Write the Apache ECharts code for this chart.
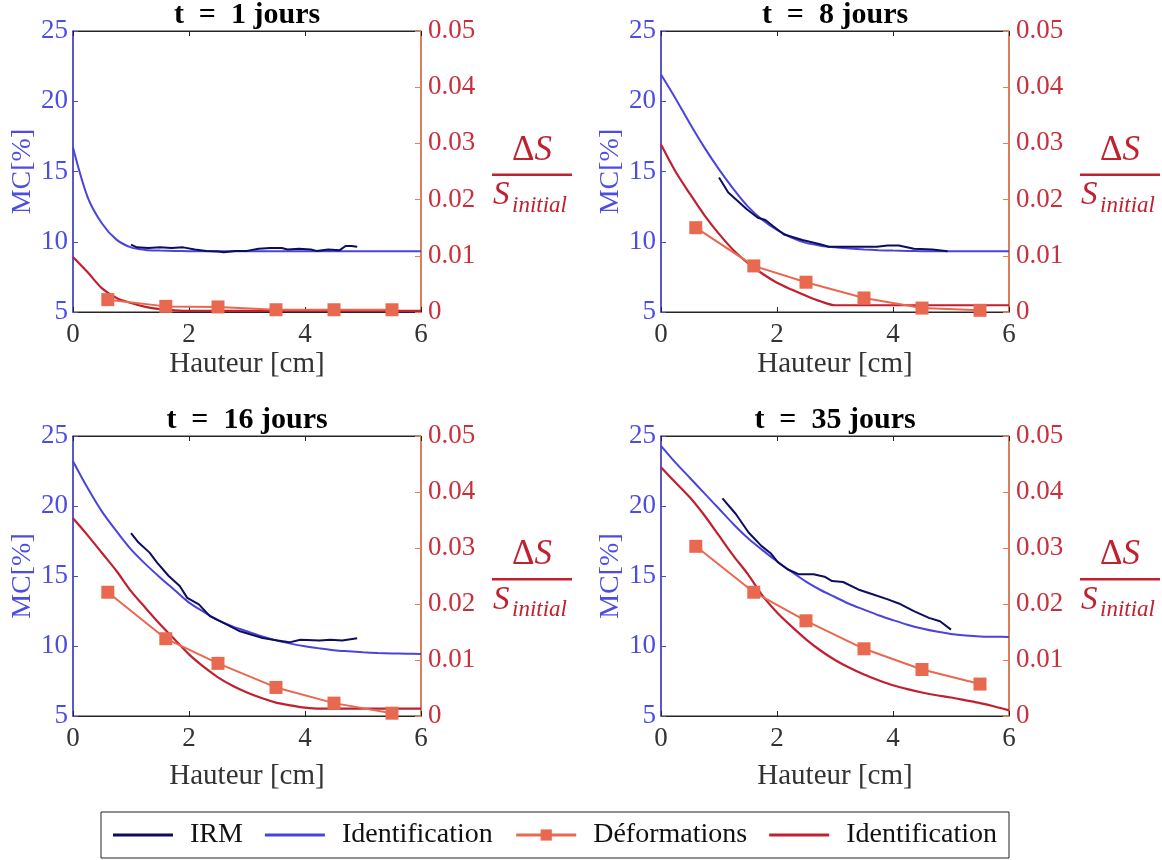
<!DOCTYPE html>
<html><head><meta charset="utf-8">
<script src="https://cdn.jsdelivr.net/npm/echarts@6/dist/echarts.min.js"></script>
<style>html,body{margin:0;padding:0;background:#fff}#c{width:1162px;height:860px}</style>
</head><body><div id="c"></div>
<script>
// ---------- DATA ----------
const panelTitles = ['t\u2002=\u20021 jours', 't\u2002=\u20028 jours', 't\u2002=\u200216 jours', 't\u2002=\u200235 jours'];

// Identification curves sampled on a common height grid [cm]
const identX = [0,0.25,0.5,0.75,1,1.25,1.5,1.75,2,2.25,2.5,2.75,3,3.25,3.5,3.75,4,4.25,4.5,4.75,5,5.25,5.5,5.75,6];
const mcIdent1  = [16.7,13.2,11.3,10.15,9.6,9.42,9.37,9.34,9.33,9.33,9.33,9.33,9.33,9.33,9.33,9.33,9.33,9.33,9.33,9.33,9.33,9.33,9.33,9.33,9.33];
const mcIdent8  = [21.9,20.2,18.4,16.7,15.15,13.75,12.5,11.55,10.84,10.3,9.92,9.72,9.6,9.52,9.45,9.4,9.37,9.35,9.33,9.32,9.32,9.32,9.32,9.32,9.32];
const mcIdent16 = [23.2,21.3,19.6,18.2,16.9,15.85,14.9,14.0,13.1,12.45,11.85,11.4,11.05,10.7,10.4,10.17,9.98,9.83,9.7,9.62,9.55,9.5,9.47,9.45,9.43];
const mcIdent35 = [24.3,23.1,22.0,20.9,19.8,18.7,17.7,16.85,16.05,15.3,14.6,14.0,13.5,13.0,12.6,12.2,11.85,11.52,11.25,11.03,10.86,10.75,10.68,10.66,10.65];

const dsIdent1  = [0.0098,0.0071,0.0042,0.0025,0.0016,0.0009,0.0005,0.0003,0.0002,0.0002,0.0002,0.0002,0.0002,0.0002,0.0002,0.0002,0.0002,0.0002,0.0002,0.0002,0.0002,0.0002,0.0002,0.0002,0.0002];
const dsIdent8  = [0.0298,0.0250,0.0210,0.0172,0.0139,0.0110,0.0087,0.0068,0.0052,0.0040,0.0029,0.0019,0.0012,0.0012,0.0012,0.0012,0.0012,0.0012,0.0012,0.0012,0.0012,0.0012,0.0012,0.0012,0.0012];
const dsIdent16 = [0.0353,0.0323,0.0291,0.0259,0.0223,0.0193,0.0164,0.0137,0.0110,0.0088,0.0069,0.0054,0.0042,0.0032,0.0024,0.0019,0.0015,0.0013,0.0013,0.0013,0.0013,0.0013,0.0013,0.0013,0.0013];
const dsIdent35 = [0.0444,0.0417,0.0390,0.0358,0.0322,0.0286,0.0253,0.0215,0.0185,0.0160,0.0137,0.0117,0.0100,0.0086,0.0074,0.0064,0.0055,0.0048,0.0042,0.0037,0.0033,0.0028,0.0023,0.0017,0.0010];

// IRM measurements
const irmX1  = [1.0,1.1,1.3,1.5,1.7,1.9,2.1,2.3,2.5,2.6,2.8,3.0,3.2,3.4,3.6,3.7,3.9,4.1,4.2,4.4,4.6,4.7,4.8,4.9];
const irm1   = [9.8,9.6,9.55,9.6,9.55,9.6,9.45,9.35,9.3,9.25,9.35,9.35,9.5,9.55,9.55,9.45,9.5,9.45,9.35,9.45,9.4,9.7,9.7,9.65];
const irmX8  = [1.0,1.16,1.48,1.67,1.8,1.93,2.12,2.44,2.76,2.89,3.08,3.4,3.72,3.91,4.1,4.36,4.68,4.94];
const irm8   = [14.57,13.5,12.31,11.71,11.55,11.12,10.52,10.12,9.81,9.64,9.64,9.64,9.64,9.74,9.74,9.5,9.45,9.33];
const irmX16 = [1.0,1.13,1.32,1.45,1.65,1.84,1.97,2.17,2.36,2.62,2.88,3.27,3.53,3.73,3.92,4.25,4.44,4.64,4.9];
const irm16  = [18.06,17.39,16.67,15.96,15.0,14.28,13.44,12.97,12.13,11.6,11.05,10.57,10.4,10.26,10.45,10.4,10.45,10.4,10.55];
const irmX35 = [1.06,1.29,1.51,1.73,1.89,2.02,2.18,2.38,2.63,2.82,2.95,3.14,3.40,3.66,3.91,4.1,4.36,4.62,4.81,5.0];
const irm35  = [20.55,19.43,18.11,17.15,16.63,15.96,15.48,15.12,15.12,14.95,14.64,14.57,14.04,13.68,13.33,13.04,12.49,12.01,11.77,11.17];

// Déformations (measured ΔS/S_initial)
const defX  = [0.6,1.6,2.5,3.5,4.5,5.5];
const def1  = [0.0022,0.0010,0.0009,0.0004,0.0004,0.0004];
const def8  = [0.0150,0.0082,0.0053,0.0025,0.0007,0.0003];
const def16 = [0.0221,0.0138,0.0094,0.0051,0.0023,0.0005];
const def35 = [0.0303,0.0221,0.0170,0.0120,0.0083,0.0057];

const legendNames = ['IRM', 'Identification', 'Déformations', 'Identification '];

// ---------- LAYOUT / STYLE ----------
const grids = [
  {left: 73,  top: 31,  width: 348, height: 281},
  {left: 661, top: 31,  width: 348, height: 281},
  {left: 73,  top: 436, width: 348, height: 280},
  {left: 661, top: 436, width: 348, height: 280}
];
const xNameGaps = [38, 38, 46, 46];
const C = {
  irm: '#0d0d5e', blue: '#4a44dc', def: '#e8694f', red: '#c1202f',
  leftLbl: '#4d4de3', rightLbl: '#c9303c', rightLine: '#f0784a', text: '#333333'
};
const FONT = 'Liberation Serif';
const LINE_ICON = 'path://M0,0H60V3H0Z';

const panels = [
  {mc: mcIdent1, ds: dsIdent1, irmX: irmX1, irm: irm1, def: def1},
  {mc: mcIdent8, ds: dsIdent8, irmX: irmX8, irm: irm8, def: def8},
  {mc: mcIdent16, ds: dsIdent16, irmX: irmX16, irm: irm16, def: def16},
  {mc: mcIdent35, ds: dsIdent35, irmX: irmX35, irm: irm35, def: def35}
];
const zip = (a, b) => a.map((v, i) => [v, b[i]]);

const xAxes = [], yAxes = [], series = [], titles = [], graphics = [];
grids.forEach((g, i) => {
  xAxes.push({
    gridIndex: i, type: 'value', min: 0, max: 6, interval: 2, position: 'bottom',
    name: 'Hauteur [cm]', nameLocation: 'middle', nameGap: xNameGaps[i],
    nameTextStyle: {fontFamily: FONT, fontSize: 29, color: C.text},
    axisLine: {show: true, onZero: false, lineStyle: {color: '#262626', width: 1}},
    axisTick: {inside: true, length: 5, lineStyle: {color: '#262626'}},
    axisLabel: {fontFamily: FONT, fontSize: 27, color: C.text, margin: 9},
    splitLine: {show: false}
  });
});
grids.forEach((g, i) => {
  xAxes.push({
    gridIndex: i, type: 'value', min: 0, max: 6, interval: 2, position: 'top',
    axisLine: {show: true, onZero: false, lineStyle: {color: '#262626', width: 1}},
    axisTick: {inside: true, length: 5, lineStyle: {color: '#262626'}},
    axisLabel: {show: false}, splitLine: {show: false}
  });
});
grids.forEach((g, i) => {
  yAxes.push({
    gridIndex: i, type: 'value', min: 5, max: 25, interval: 5, position: 'left',
    name: 'MC[%]', nameLocation: 'middle', nameGap: 36, nameRotate: 90,
    nameTextStyle: {fontFamily: FONT, fontSize: 28, color: C.leftLbl},
    axisLine: {show: true, onZero: false, lineStyle: {color: C.blue, width: 1.5}},
    axisTick: {show: true, inside: true, length: 5, lineStyle: {color: C.blue}},
    axisLabel: {fontFamily: FONT, fontSize: 27, color: C.leftLbl, margin: 5},
    splitLine: {show: false}
  });
});
grids.forEach((g, i) => {
  yAxes.push({
    gridIndex: i, type: 'value', min: 0, max: 0.05, interval: 0.01, position: 'right',
    axisLine: {show: true, onZero: false, lineStyle: {color: C.rightLine, width: 1.5}},
    axisTick: {show: true, inside: true, length: 6, lineStyle: {color: C.rightLine}},
    axisLabel: {fontFamily: FONT, fontSize: 27, color: C.rightLbl, margin: 7,
      formatter: v => v === 0 ? '0' : v.toFixed(2)},
    splitLine: {show: false}
  });
});

panels.forEach((p, i) => {
  const g = grids[i];
  series.push({
    name: legendNames[1], type: 'line', xAxisIndex: i, yAxisIndex: i,
    data: zip(identX, p.mc), showSymbol: false, symbol: 'none', smooth: 0.3,
    lineStyle: {color: C.blue, width: 2}, itemStyle: {color: C.blue}, z: 2
  });
  series.push({
    name: legendNames[0], type: 'line', xAxisIndex: i, yAxisIndex: i,
    data: zip(p.irmX, p.irm), showSymbol: false, symbol: 'none',
    lineStyle: {color: C.irm, width: 2}, itemStyle: {color: C.irm}, z: 3
  });
  series.push({
    name: legendNames[3], type: 'line', xAxisIndex: i, yAxisIndex: 4 + i,
    data: zip(identX, p.ds), showSymbol: false, symbol: 'none', smooth: 0.3,
    lineStyle: {color: C.red, width: 2.2}, itemStyle: {color: C.red}, z: 3
  });
  series.push({
    name: legendNames[2], type: 'line', xAxisIndex: i, yAxisIndex: 4 + i,
    data: zip(defX, p.def), symbol: 'rect', symbolSize: 13, showSymbol: true,
    lineStyle: {color: C.def, width: 2}, itemStyle: {color: C.def}, z: 4
  });

  titles.push({
    text: panelTitles[i], left: g.left + g.width / 2, top: g.top - 31, textAlign: 'center',
    padding: 0,
    textStyle: {fontFamily: FONT, fontWeight: 'bold', fontSize: 30, color: '#000'}
  });

  const fx = g.left + g.width + 71, fy = g.top + g.height / 2 + 3;
  graphics.push(
    {type: 'text', x: fx + 40, y: fy - 24, silent: true,
     style: {text: '{d|Δ}{s|S}', align: 'center', verticalAlign: 'middle',
       rich: {d: {fontFamily: FONT, fontSize: 35, fill: C.red},
              s: {fontFamily: FONT, fontStyle: 'italic', fontSize: 35, fill: C.red}}}},
    {type: 'rect', silent: true, shape: {x: fx, y: fy - 1, width: 80, height: 2.4}, style: {fill: C.red}},
    {type: 'text', x: fx + 1, y: fy + 21, silent: true,
     style: {text: 'S', fontFamily: FONT, fontStyle: 'italic', fontSize: 33, fill: C.red,
       align: 'left', verticalAlign: 'middle'}},
    {type: 'text', x: fx + 20, y: fy + 31, silent: true,
     style: {text: 'initial', fontFamily: FONT, fontStyle: 'italic', fontSize: 23, fill: C.red,
       align: 'left', verticalAlign: 'middle'}}
  );
});

const chart = echarts.init(document.getElementById('c'), null, {renderer: 'canvas'});
chart.setOption({
  backgroundColor: '#fff',
  animation: false,
  title: titles,
  grid: grids.map(g => Object.assign({show: true, borderColor: '#262626', borderWidth: 1, backgroundColor: 'transparent'}, g)),
  xAxis: xAxes,
  yAxis: yAxes,
  legend: {
    data: [
      {name: legendNames[0], icon: LINE_ICON},
      {name: legendNames[1], icon: LINE_ICON},
      {name: legendNames[2]},
      {name: legendNames[3], icon: LINE_ICON}
    ],
    left: 101, top: 812, orient: 'horizontal',
    itemWidth: 60, itemHeight: 14, itemGap: 22, padding: [9, 12],
    borderColor: '#222', borderWidth: 1, selectedMode: false,
    lineStyle: {width: 3},
    formatter: n => n.trim(),
    textStyle: {fontFamily: FONT, fontSize: 28, color: '#111', padding: [0, 0, 0, 12]}
  },
  series: series,
  graphic: graphics
});
</script>
</body></html>
